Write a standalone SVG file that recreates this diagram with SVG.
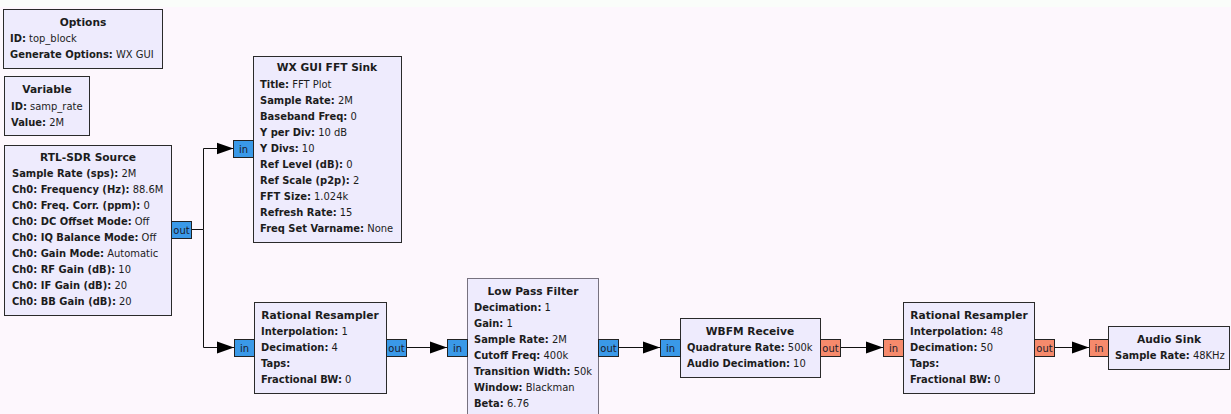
<svg xmlns="http://www.w3.org/2000/svg" width="1231" height="414" viewBox="0 0 1231 414">
<style>
text{font-family:"DejaVu Sans",Verdana,sans-serif;font-size:9.95px;fill:#1c1c1c}
.t{font-weight:bold;text-anchor:middle;font-size:10.67px}
.k{font-weight:bold}
.blk{fill:#eeebfd;stroke:#2a2a2a;stroke-width:1}
.sel{stroke:#77727f}
.pc{fill:#3a99e8;stroke:#222;stroke-width:1}
.pf{fill:#f68a6c;stroke:#222;stroke-width:1}
.pt{text-anchor:middle;fill:#1a1a2a}
.w{fill:none;stroke:#111;stroke-width:1}
</style>
<defs>
<marker id="arr" markerUnits="userSpaceOnUse" markerWidth="17" markerHeight="13" viewBox="0 0 17 13" refX="17" refY="6.5" orient="auto">
<path d="M0,0.5 L17,6.5 L0,12.5 z" fill="#000"/>
</marker>
</defs>
<rect x="0" y="0" width="1231" height="414" fill="#fdf7fd"/>
<rect x="0" y="0" width="1231" height="7" fill="#fafdfa"/>

<g id="connectors">
<path class="w" d="M191.5 229.5 H203.5 V148.5 H233.5" marker-end="url(#arr)"/>
<path class="w" d="M203.5 229.5 V347.5 H234" marker-end="url(#arr)"/>
<path class="w" d="M406.5 347.5 H447" marker-end="url(#arr)"/>
<path class="w" d="M618.5 347.5 H660" marker-end="url(#arr)"/>
<path class="w" d="M840.5 347.5 H883" marker-end="url(#arr)"/>
<path class="w" d="M1054.5 347.5 H1089" marker-end="url(#arr)"/>
</g>

<g id="options">
<rect class="blk" x="3.5" y="9.5" width="159" height="59"/>
<text class="t" x="83" y="26">Options</text>
<text x="10" y="42"><tspan class="k">ID:</tspan> top_block</text>
<text x="10" y="58"><tspan class="k">Generate Options:</tspan> WX GUI</text>
</g>

<g id="variable">
<rect class="blk" x="4.5" y="76.5" width="85" height="59"/>
<text class="t" x="47" y="93">Variable</text>
<text x="11" y="110"><tspan class="k">ID:</tspan> samp_rate</text>
<text x="11" y="126"><tspan class="k">Value:</tspan> 2M</text>
</g>

<g id="rtlsdr_source">
<rect class="blk" x="4.5" y="145.5" width="167" height="170"/>
<text class="t" x="88" y="161">RTL-SDR Source</text>
<text x="12" y="177"><tspan class="k">Sample Rate (sps):</tspan> 2M</text>
<text x="12" y="193"><tspan class="k">Ch0: Frequency (Hz):</tspan> 88.6M</text>
<text x="12" y="209"><tspan class="k">Ch0: Freq. Corr. (ppm):</tspan> 0</text>
<text x="12" y="225"><tspan class="k">Ch0: DC Offset Mode:</tspan> Off</text>
<text x="12" y="241"><tspan class="k">Ch0: IQ Balance Mode:</tspan> Off</text>
<text x="12" y="257"><tspan class="k">Ch0: Gain Mode:</tspan> Automatic</text>
<text x="12" y="273"><tspan class="k">Ch0: RF Gain (dB):</tspan> 10</text>
<text x="12" y="289"><tspan class="k">Ch0: IF Gain (dB):</tspan> 20</text>
<text x="12" y="305"><tspan class="k">Ch0: BB Gain (dB):</tspan> 20</text>
<rect class="pc" x="171.5" y="221.5" width="20" height="17"/>
<text class="pt" x="181.5" y="234">out</text>
</g>

<g id="fft_sink">
<rect class="blk" x="253.5" y="56.5" width="148" height="186"/>
<text class="t" x="327" y="71">WX GUI FFT Sink</text>
<text x="260" y="88"><tspan class="k">Title:</tspan> FFT Plot</text>
<text x="260" y="104"><tspan class="k">Sample Rate:</tspan> 2M</text>
<text x="260" y="120"><tspan class="k">Baseband Freq:</tspan> 0</text>
<text x="260" y="136"><tspan class="k">Y per Div:</tspan> 10 dB</text>
<text x="260" y="152"><tspan class="k">Y Divs:</tspan> 10</text>
<text x="260" y="168"><tspan class="k">Ref Level (dB):</tspan> 0</text>
<text x="260" y="184"><tspan class="k">Ref Scale (p2p):</tspan> 2</text>
<text x="260" y="200"><tspan class="k">FFT Size:</tspan> 1.024k</text>
<text x="260" y="216"><tspan class="k">Refresh Rate:</tspan> 15</text>
<text x="260" y="232"><tspan class="k">Freq Set Varname:</tspan> None</text>
<rect class="pc" x="233.5" y="140.5" width="20" height="17"/>
<text class="pt" x="243.5" y="153">in</text>
</g>

<g id="rational_resampler_1">
<rect class="blk" x="254.5" y="302.5" width="132" height="91"/>
<text class="t" x="320" y="319">Rational Resampler</text>
<text x="261" y="335"><tspan class="k">Interpolation:</tspan> 1</text>
<text x="261" y="351"><tspan class="k">Decimation:</tspan> 4</text>
<text x="261" y="367"><tspan class="k">Taps:</tspan></text>
<text x="261" y="383"><tspan class="k">Fractional BW:</tspan> 0</text>
<rect class="pc" x="234.5" y="339.5" width="20" height="17"/>
<text class="pt" x="244.5" y="352">in</text>
<rect class="pc" x="386.5" y="339.5" width="20" height="17"/>
<text class="pt" x="396.5" y="352">out</text>
</g>

<g id="low_pass_filter">
<rect class="blk sel" x="467.5" y="278.5" width="131" height="140"/>
<text class="t" x="533" y="295">Low Pass Filter</text>
<text x="474" y="311"><tspan class="k">Decimation:</tspan> 1</text>
<text x="474" y="327"><tspan class="k">Gain:</tspan> 1</text>
<text x="474" y="343"><tspan class="k">Sample Rate:</tspan> 2M</text>
<text x="474" y="359"><tspan class="k">Cutoff Freq:</tspan> 400k</text>
<text x="474" y="375"><tspan class="k">Transition Width:</tspan> 50k</text>
<text x="474" y="391"><tspan class="k">Window:</tspan> Blackman</text>
<text x="474" y="407"><tspan class="k">Beta:</tspan> 6.76</text>
<rect class="pc" x="447.5" y="339.5" width="20" height="17"/>
<text class="pt" x="457.5" y="352">in</text>
<rect class="pc" x="598.5" y="339.5" width="20" height="17"/>
<text class="pt" x="608.5" y="352">out</text>
</g>

<g id="wbfm_receive">
<rect class="blk" x="680.5" y="318.5" width="140" height="59"/>
<text class="t" x="750" y="335">WBFM Receive</text>
<text x="687" y="351"><tspan class="k">Quadrature Rate:</tspan> 500k</text>
<text x="687" y="367"><tspan class="k">Audio Decimation:</tspan> 10</text>
<rect class="pc" x="660.5" y="339.5" width="20" height="17"/>
<text class="pt" x="670.5" y="352">in</text>
<rect class="pf" x="820.5" y="339.5" width="20" height="17"/>
<text class="pt" x="830.5" y="352">out</text>
</g>

<g id="rational_resampler_2">
<rect class="blk" x="903.5" y="302.5" width="131" height="91"/>
<text class="t" x="969" y="319">Rational Resampler</text>
<text x="910" y="335"><tspan class="k">Interpolation:</tspan> 48</text>
<text x="910" y="351"><tspan class="k">Decimation:</tspan> 50</text>
<text x="910" y="367"><tspan class="k">Taps:</tspan></text>
<text x="910" y="383"><tspan class="k">Fractional BW:</tspan> 0</text>
<rect class="pf" x="883.5" y="339.5" width="20" height="17"/>
<text class="pt" x="893.5" y="352">in</text>
<rect class="pf" x="1034.5" y="339.5" width="20" height="17"/>
<text class="pt" x="1044.5" y="352">out</text>
</g>

<g id="audio_sink">
<rect class="blk" x="1108.5" y="326.5" width="121" height="43"/>
<text class="t" x="1169" y="343">Audio Sink</text>
<text x="1115" y="359"><tspan class="k">Sample Rate:</tspan> 48KHz</text>
<rect class="pf" x="1089.5" y="339.5" width="19" height="17"/>
<text class="pt" x="1099" y="352">in</text>
</g>
</svg>
